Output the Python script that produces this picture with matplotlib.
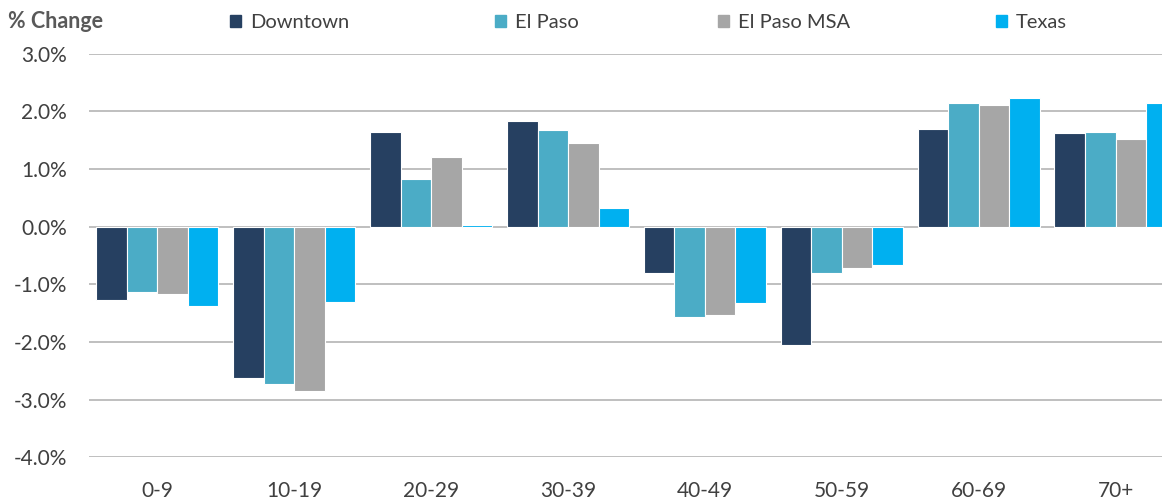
import matplotlib.pyplot as plt
import matplotlib.patches as mpatches
import numpy as np

# age groups and % change per area
age_groups = ["0-9", "10-19", "20-29", "30-39", "40-49", "50-59", "60-69", "70+"]
downtown = [-1.27, -2.63, 1.65, 1.83, -0.81, -2.05, 1.69, 1.63]
el_paso = [-1.13, -2.72, 0.83, 1.67, -1.57, -0.81, 2.14, 1.65]
el_paso_msa = [-1.17, -2.85, 1.21, 1.46, -1.54, -0.71, 2.11, 1.53]
texas = [-1.37, -1.31, 0.03, 0.32, -1.33, -0.67, 2.23, 2.14]

series = [("Downtown", downtown, "#264061"),
          ("El Paso", el_paso, "#4BACC6"),
          ("El Paso MSA", el_paso_msa, "#A6A6A6"),
          ("Texas", texas, "#00B0F0")]

plt.rcParams['font.family'] = ['Lato', 'DejaVu Sans']
txt = "#404040"

fig = plt.figure(figsize=(11.62, 4.99), dpi=100)
# the original chart is cut off on the right, so the axes run past the figure edge
ax = fig.add_axes([0.0766, 0.0836, 0.9423, 0.8086])

x = np.arange(len(age_groups))
w = 0.223
for i, (name, vals, col) in enumerate(series):
    ax.bar(x + (i - 1.5) * w, vals, w, color=col, edgecolor="white",
           linewidth=0.8, zorder=3)

ax.set_xlim(-0.5, len(age_groups) - 0.5)
ax.set_ylim(-4, 3)
ax.set_yticks(np.arange(-4, 4, 1))
ax.set_yticklabels([f"{v:.1f}%" for v in np.arange(-4, 4, 1)])
ax.set_xticks(x)
ax.set_xticklabels(age_groups)
ax.tick_params(length=0, labelsize=15, colors=txt)
ax.tick_params(axis="x", pad=17)
ax.tick_params(axis="y", pad=16)
ax.grid(axis="y", color="#BFBFBF", linewidth=1.4, zorder=0)
for s in ax.spines.values():
    s.set_visible(False)

fig.text(0.007, 0.957, "% Change", fontsize=15.5, fontweight="bold",
         color="#595959", va="center")

# legend items placed one by one, like the original
leg_x = [0.198, 0.426, 0.618, 0.857]
for (name, vals, col), lx in zip(series, leg_x):
    h = mpatches.Patch(color=col, label=name)
    fig.legend(handles=[h], loc="center left", bbox_to_anchor=(lx, 0.955),
               frameon=False, fontsize=14.5, handlelength=0.55, handleheight=0.55,
               handletextpad=0.45, borderpad=0, borderaxespad=0,
               labelcolor=txt)

fig.savefig("out.png", dpi=100)
